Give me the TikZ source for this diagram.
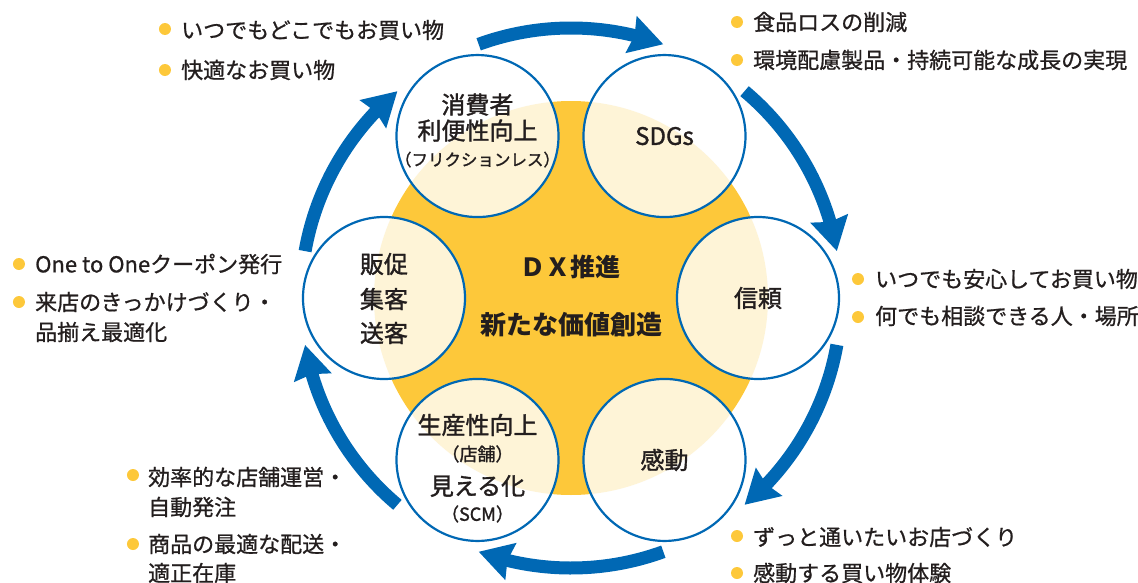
\documentclass[tikz,border=0pt]{standalone}
\usepackage{fontspec}
\setmainfont{Noto Sans CJK JP}
\newfontfamily\jpmed[FakeBold=1.4]{Noto Sans CJK JP}
\newfontfamily\jptxt[FakeBold=0.8]{Noto Sans CJK JP}
\usetikzlibrary{arrows.meta,bending}
\definecolor{dxblue}{RGB}{0,104,180}
\definecolor{dxyellow}{RGB}{253,200,58}
\definecolor{dxtext}{RGB}{35,30,30}
\begin{document}
\begin{tikzpicture}[x=1pt,y=1pt,
  hub/.style={circle, fill=dxyellow, minimum size=394pt, inner sep=0pt},
  topic/.style={circle, draw=dxblue, line width=2.2pt, fill=white, fill opacity=0.8, draw opacity=1, minimum size=162pt, inner sep=0pt},
  lbl/.style={text=dxtext, inner sep=0pt, font=\jpmed\fontsize{24}{28}\selectfont},
  sublbl/.style={text=dxtext, inner sep=0pt, font=\jpmed\fontsize{16.5}{18}\selectfont},
  subbig/.style={sublbl, font=\jpmed\fontsize{18}{20}\selectfont},
  corelbl/.style={text=dxtext, inner sep=0pt, font=\bfseries\fontsize{25}{30}\selectfont},
  looparrow/.style={draw=dxblue, line width=13pt, -{Stealth[length=33pt,width=37pt,inset=3pt]}},
  bulletdot/.style={circle, fill=dxyellow, minimum size=12pt, inner sep=0pt},
  bullettext/.style={text=dxtext, inner sep=0pt, anchor=west, font=\jptxt\fontsize{22}{26}\selectfont}]
\useasboundingbox (-571,-284) rectangle (567,298);
% hub
\node[hub] (hub) at (0,0) {};
% topic circles
\node[topic] (cTL) at (120:187pt) {};
\node[topic] (cTR) at (60:187pt) {};
\node[topic] (cR) at (0:187pt) {};
\node[topic] (cBR) at (-60:187pt) {};
\node[topic] (cBL) at (-120:187pt) {};
\node[topic] (cL) at (180:187pt) {};
% labels
\node[lbl] (tl1) at ([yshift=31.5pt]cTL.center) {消費者};
\node[lbl] (tl2) at ([yshift=5.5pt]cTL.center) {利便性向上};
\node[sublbl] (tl3) at ([yshift=-23.5pt]cTL.center) {（フリクションレス）};
\node[lbl] (tr1) at (cTR.center) {SDGs};
\node[lbl] (r1) at (cR.center) {信頼};
\node[lbl] (br1) at (cBR.center) {感動};
\node[lbl] (bl1) at ([yshift=35pt]cBL.center) {生産性向上};
\node[subbig] (bl2) at ([yshift=6pt]cBL.center) {（店舗）};
\node[lbl] (bl3) at ([yshift=-26pt]cBL.center) {見える化};
\node[subbig] (bl4) at ([yshift=-54pt]cBL.center) {（SCM）};
\node[lbl] (l1) at ([yshift=34pt]cL.center) {販促};
\node[lbl] (l2) at ([yshift=-1pt]cL.center) {集客};
\node[lbl] (l3) at ([yshift=-35pt]cL.center) {送客};
\node[corelbl] (core1) at (0,31.5) {ＤＸ推進};
\node[corelbl, font=\bfseries\fontsize{26}{30}\selectfont] (core2) at (1,-26.5) {新たな価値創造};
% cycle arrows
\coordinate (a1) at (110:270pt);
\coordinate (a2) at (50:270pt);
\coordinate (a3) at (-10:270pt);
\coordinate (a4) at (-70:270pt);
\coordinate (a5) at (-130:270pt);
\coordinate (a6) at (170:270pt);
\draw[looparrow] (a1) arc[start angle=110, end angle=70, radius=270pt];
\draw[looparrow] (a2) arc[start angle=50, end angle=10, radius=270pt];
\draw[looparrow] (a3) arc[start angle=-10, end angle=-50, radius=270pt];
\draw[looparrow] (a4) arc[start angle=-70, end angle=-110, radius=270pt];
\draw[looparrow] (a5) arc[start angle=-130, end angle=-170, radius=270pt];
\draw[looparrow] (a6) arc[start angle=170, end angle=130, radius=270pt];
% bullets upper left
\node[bulletdot] (d1) at (-406,269) {};
\node[bullettext] (b1) at (-390,268) {いつでもどこでもお買い物};
\node[bulletdot] (d2) at (-406,228) {};
\node[bullettext] (b2) at (-390,228) {快適なお買い物};
% left
\node[bulletdot] (d3) at (-552,34) {};
\node[bullettext] (b3) at (-536,34) {One to Oneクーポン発行};
\node[bulletdot] (d4) at (-552,-4) {};
\node[bullettext] (b4) at (-536,-4) {来店のきっかけづくり・};
\node[bullettext] (b4b) at (-536,-34) {品揃え最適化};
% top right
\node[bulletdot] (d5) at (166,276) {};
\node[bullettext] (b5) at (182,276) {食品ロスの削減};
\node[bulletdot] (d6) at (166,238) {};
\node[bullettext] (b6) at (182,238) {環境配慮製品・持続可能な成長の実現};
% right
\node[bulletdot] (d7) at (287,19) {};
\node[bullettext] (b7) at (304,19) {いつでも安心してお買い物};
\node[bulletdot] (d8) at (287,-19) {};
\node[bullettext] (b8) at (304,-18) {何でも相談できる人・場所};
% lower left
\node[bulletdot] (d9) at (-438,-177) {};
\node[bullettext] (b9) at (-423,-179) {効率的な店舗運営・};
\node[bullettext] (b9b) at (-423,-209) {自動発注};
\node[bulletdot] (d10) at (-438,-246) {};
\node[bullettext] (b10) at (-423,-246) {商品の最適な配送・};
\node[bullettext] (b10b) at (-423,-275) {適正在庫};
% lower right
\node[bulletdot] (d11) at (166,-238) {};
\node[bullettext] (b11) at (182,-239) {ずっと通いたいお店づくり};
\node[bulletdot] (d12) at (166,-275) {};
\node[bullettext] (b12) at (182,-275) {感動する買い物体験};
\end{tikzpicture}
\end{document}
